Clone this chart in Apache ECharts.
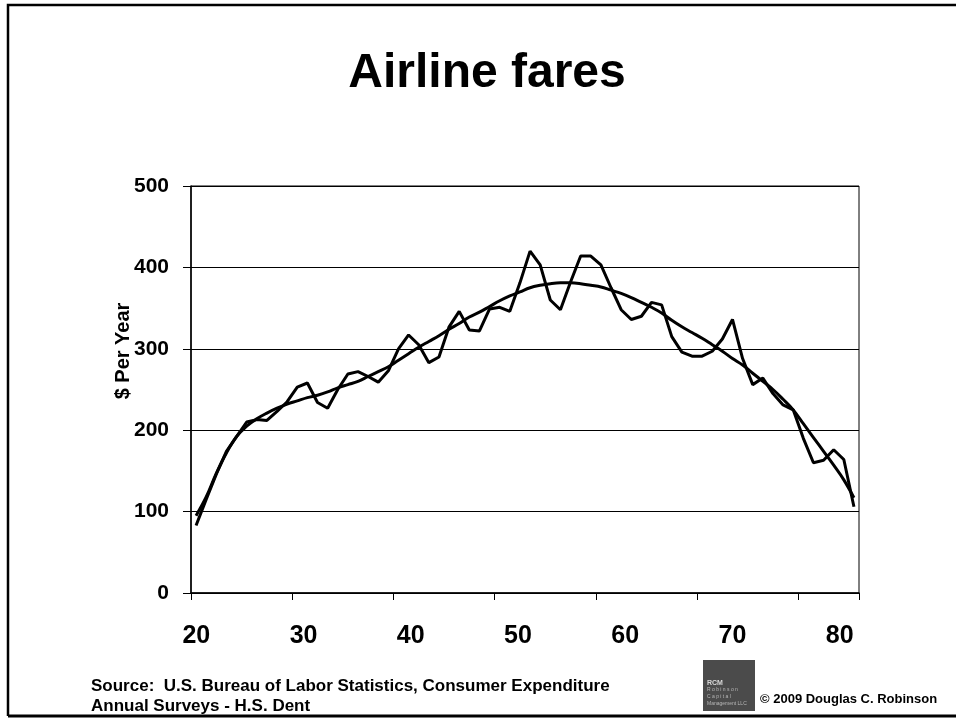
<!DOCTYPE html>
<html>
<head>
<meta charset="utf-8">
<title>Airline fares</title>
<script src="https://cdn.jsdelivr.net/npm/echarts@6/dist/echarts.min.js"></script>
<style>
  html, body { margin: 0; padding: 0; background: #fff; }
  #chart { width: 956px; height: 723px; }
</style>
</head>
<body>
<div id="chart"></div>
<script>
// ages on the category axis
const ages = [20, 21, 22, 23, 24, 25, 26, 27, 28, 29,
  30, 31, 32, 33, 34, 35, 36, 37, 38, 39,
  40, 41, 42, 43, 44, 45, 46, 47, 48, 49,
  50, 51, 52, 53, 54, 55, 56, 57, 58, 59,
  60, 61, 62, 63, 64, 65, 66, 67, 68, 69,
  70, 71, 72, 73, 74, 75, 76, 77, 78, 79,
  80, 81, 82, 83, 84, 85]

// spending on airline fares, $ per year
const fares = [83, 115, 146, 174, 192, 210, 213, 212, 223, 235,
  253, 258, 234, 227, 250, 269, 272, 266, 259, 273,
  300, 317, 305, 283, 290, 327, 346, 323, 322, 349,
  351, 346, 381, 420, 403, 360, 348, 382, 414, 414,
  403, 375, 348, 336, 340, 357, 354, 315, 296, 291,
  291, 297, 312, 336, 288, 256, 264, 245, 231, 225,
  190, 160, 163, 176, 164, 106]

// polynomial trend line
const trend = [95, 118, 147, 172, 192, 205, 214, 221, 227, 232,
  236, 240, 243, 247, 252, 256, 260, 266, 272, 278,
  286, 294, 302, 309, 316, 324, 331, 339, 345, 352,
  359, 365, 370, 375, 378, 380, 381, 381, 380, 378,
  376, 372, 368, 363, 357, 351, 344, 335, 327, 320,
  313, 305, 297, 288, 280, 270, 260, 250, 238, 225,
  208, 191, 174, 157, 139, 117]

// tick labels shown under the x axis
const ageLabels = [20, 30, 40, 50, 60, 70, 80]

const FONT = 'Liberation Sans, Arial, Helvetica, sans-serif'

const myChart = echarts.init(document.getElementById('chart'))
const option = {
  animation: false,
  backgroundColor: '#fff',
  grid: {
    left: 191,
    top: 186,
    right: 97,
    bottom: 130,
    show: true,
    borderColor: '#000',
    borderWidth: 1
  },
  xAxis: [
    {
      type: 'category',
      data: ages,
      boundaryGap: true,
      axisLine: { lineStyle: { color: '#000', width: 1.5 } },
      axisTick: { show: true, interval: 9, length: 7, lineStyle: { color: '#000', width: 1 } },
      axisLabel: { show: false },
      splitLine: { show: false }
    },
    {
      // label axis: the printed ages sit on their own even spacing
      type: 'value',
      position: 'bottom',
      min: 19.506,
      max: 81.8,
      axisLine: { show: false },
      axisTick: { show: false },
      splitLine: { show: false },
      axisLabel: {
        customValues: ageLabels,
        margin: 31,
        color: '#000',
        fontFamily: FONT,
        fontWeight: 'bold',
        fontSize: 25
      }
    }
  ],
  yAxis: {
    type: 'value',
    min: 0,
    max: 500,
    interval: 100,
    axisLine: { show: true, lineStyle: { color: '#000', width: 1.5 } },
    axisTick: { show: true, length: 8, lineStyle: { color: '#000', width: 1 } },
    axisLabel: { margin: 22, color: '#000', fontFamily: FONT, fontWeight: 'bold', fontSize: 21 },
    splitLine: { show: true, lineStyle: { color: '#000', width: 1 } }
  },
  series: [
    {
      name: 'Airline fares',
      type: 'line',
      xAxisIndex: 0,
      data: fares,
      symbol: 'none',
      smooth: false,
      lineStyle: { color: '#000', width: 3 }
    },
    {
      name: 'Trend',
      type: 'line',
      xAxisIndex: 0,
      data: trend,
      symbol: 'none',
      smooth: 0.4,
      lineStyle: { color: '#000', width: 3 }
    }
  ],
  graphic: [
    // slide frame
    {
      type: 'polyline',
      shape: { points: [[8, 716], [8, 5], [956, 5]] },
      style: { stroke: '#000', lineWidth: 2.5, fill: null }
    },
    {
      type: 'line',
      shape: { x1: 8, y1: 716, x2: 956, y2: 716 },
      style: { stroke: '#000', lineWidth: 3 }
    },
    {
      type: 'text',
      x: 487,
      y: 74,
      style: {
        text: 'Airline fares',
        font: 'bold 48px ' + FONT,
        fill: '#000',
        textAlign: 'center',
        textVerticalAlign: 'middle'
      }
    },
    {
      // y axis title
      type: 'text',
      x: 123,
      y: 351,
      rotation: Math.PI / 2,
      style: {
        text: '$ Per Year',
        font: 'bold 20px ' + FONT,
        fill: '#000',
        textAlign: 'center',
        textVerticalAlign: 'middle'
      }
    },
    {
      type: 'text',
      x: 91,
      y: 686,
      style: {
        text: 'Source:  U.S. Bureau of Labor Statistics, Consumer Expenditure',
        font: 'bold 17px ' + FONT,
        fill: '#000',
        textVerticalAlign: 'middle'
      }
    },
    {
      type: 'text',
      x: 91,
      y: 706,
      style: {
        text: 'Annual Surveys - H.S. Dent',
        font: 'bold 17px ' + FONT,
        fill: '#000',
        textVerticalAlign: 'middle'
      }
    },
    // RCM logo block
    {
      type: 'rect',
      shape: { x: 703, y: 660, width: 52, height: 51 },
      style: { fill: '#4b4b4b' }
    },
    {
      type: 'text',
      x: 707,
      y: 683,
      style: { text: 'RCM', font: 'bold 7px ' + FONT, fill: '#d8d8d8', textVerticalAlign: 'middle' }
    },
    {
      type: 'text',
      x: 707,
      y: 690,
      style: { text: 'R o b i n s o n', font: '5px ' + FONT, fill: '#b8b8b8', textVerticalAlign: 'middle' }
    },
    {
      type: 'text',
      x: 707,
      y: 697,
      style: { text: 'C a p i t a l', font: '5px ' + FONT, fill: '#b8b8b8', textVerticalAlign: 'middle' }
    },
    {
      type: 'text',
      x: 707,
      y: 704,
      style: { text: 'Management LLC', font: '5px ' + FONT, fill: '#b8b8b8', textVerticalAlign: 'middle' }
    },
    {
      type: 'text',
      x: 760,
      y: 699,
      style: {
        text: '\u00a9 2009 Douglas C. Robinson',
        font: 'bold 13px ' + FONT,
        fill: '#000',
        textVerticalAlign: 'middle'
      }
    }
  ]
}
myChart.setOption(option)
</script>
</body>
</html>
